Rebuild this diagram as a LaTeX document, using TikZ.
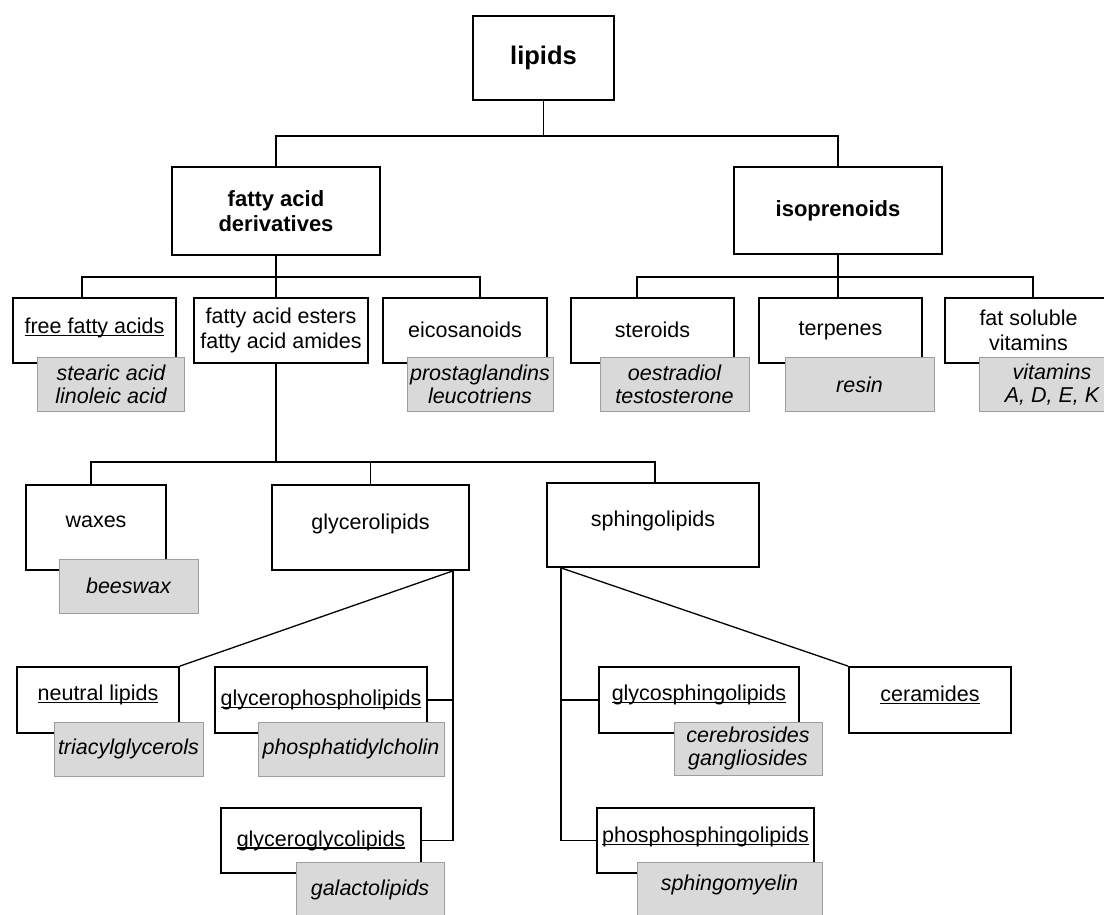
\documentclass[tikz,border=0pt]{standalone}
\usepackage{fontspec}
\setmainfont{Liberation Sans}
% underline at a fixed depth (runs through descenders, like the original)
\newcommand{\ulin}[1]{\leavevmode\setbox0=\hbox{#1}\rlap{\rule[-2.6pt]{\wd0}{1.2pt}}\box0}
% move a label up inside its box (text ends up half the amount higher)
\newcommand{\liftby}[2]{\raisebox{#1pt}{#2}}
\begin{document}
\begin{tikzpicture}[x=1pt, y=-1pt,
    box/.style={draw, line width=1.8pt, fill=white, inner sep=0pt, align=center,
                font=\fontsize{21.5}{25}\selectfont},
    headbox/.style={box, font=\fontsize{22}{25}\selectfont\bfseries},
    example/.style={draw=black!38, line width=0.8pt, fill=black!15, inner sep=0pt,
                align=center, font=\fontsize{21.5}{22.5}\selectfont\itshape},
    link/.style={line width=1.3pt}]
    % --- page frame ---
    \useasboundingbox (0,0) rectangle (1104,914);

    % --- heights of the horizontal bars ---
    \def\barOne{136}
    \def\barTwo{277}
    \def\barThree{462}

    % --- top levels ---
    \node[headbox, minimum width=141, minimum height=84, font=\fontsize{25.5}{28}\selectfont\bfseries]
        (lipids) at (543.5,58) {lipids};
    \node[headbox, minimum width=208, minimum height=88] (fad) at (276,211) {fatty acid\\derivatives};
    \node[headbox, minimum width=208, minimum height=87] (iso) at (838,210.5) {isoprenoids};

    % --- third level: fatty acid side ---
    \node[box, minimum width=163, minimum height=65] (ffa) at (94.5,330.5) {\liftby{10}{\ulin{free fatty acids}}};
    \node[example, minimum width=147, minimum height=54] (ffaex) at (111,384.5) {stearic acid\\linoleic acid};
    \node[box, minimum width=174, minimum height=65] (esters) at (281,330.5) {fatty acid esters\\fatty acid amides};
    \node[box, minimum width=164, minimum height=65] (eico) at (465,330.5) {\liftby{2}{eicosanoids}};
    \node[example, minimum width=146, minimum height=54] (eicoex) at (480,384.5) {prostaglandins\\leucotriens};

    % --- third level: isoprenoid side ---
    \node[box, minimum width=163, minimum height=65] (ster) at (652.5,330.5) {\liftby{2}{steroids}};
    \node[example, minimum width=149, minimum height=54] (sterex) at (674.5,384.5) {oestradiol\\testosterone};
    \node[box, minimum width=163, minimum height=65] (terp) at (840.5,330.5) {\liftby{2}{terpenes}};
    \node[example, minimum width=149, minimum height=54] (terpex) at (859.5,384.5) {resin};
    \node[box, minimum width=167, minimum height=65] (fsv) at (1028.5,330.5) {fat soluble\\vitamins};
    \node[example, minimum width=146, minimum height=54] (fsvex) at (1052,384.5) {vitamins\\A, D, E, K};

    % --- fourth level ---
    \node[box, minimum width=140, minimum height=85] (waxes) at (96,527.5) {\liftby{11}{waxes}};
    \node[example, minimum width=139, minimum height=54] (waxesex) at (128.5,586) {beeswax};
    \node[box, minimum width=197, minimum height=85] (glyc) at (370.5,527.5) {\liftby{11}{glycerolipids}};
    \node[box, minimum width=212, minimum height=84] (sphingo) at (653,525) {\liftby{12}{sphingolipids}};

    % --- glycerolipid branch ---
    \node[box, minimum width=162, minimum height=66] (neutral) at (98,700) {\liftby{14}{\ulin{neutral lipids}}};
    \node[example, minimum width=149, minimum height=54] (neutralex) at (128.5,749) {triacylglycerols};
    \node[box, minimum width=212, minimum height=66] (gpl) at (321,700) {\ulin{glycerophospholipids}};
    \node[example, minimum width=186, minimum height=54] (gplex) at (351,749) {phosphatidylcholin};
    \node[box, minimum width=200, minimum height=65] (ggl) at (321,840.5) {\ulin{glyceroglycolipids}};
    \node[example, minimum width=148, minimum height=56] (gglex) at (370,890) {galactolipids};

    % --- sphingolipid branch ---
    \node[box, minimum width=200, minimum height=66] (gsl) at (699,700) {\liftby{14}{\ulin{glycosphingolipids}}};
    \node[example, minimum width=148, minimum height=53] (gslex) at (748,748.5) {cerebrosides\\gangliosides};
    \node[box, minimum width=162, minimum height=66] (cer) at (930,700) {\liftby{12}{\ulin{ceramides}}};
    \node[box, minimum width=217, minimum height=65] (psl) at (705.5,840.5) {\liftby{11}{\ulin{phosphosphingolipids}}};
    \node[example, minimum width=185, minimum height=56] (pslex) at (729.5,890) {\liftby{14}{sphingomyelin}};

    % --- connectors ---
    \coordinate (j1) at (543.5,\barOne);
    \draw[link] (lipids.south) -- (j1);
    \draw[link] (fad.north) |- (j1) -| (iso.north);

    \coordinate (b2l) at (82,\barTwo);
    \coordinate (b2r) at (480,\barTwo);
    \draw[link] (fad.south) -- (fad.south |- esters.north);
    \draw[link] (b2l |- ffa.north) -- (b2l) -- (b2r) -- (b2r |- eico.north);

    \coordinate (b3l) at (637,\barTwo);
    \coordinate (b3r) at (1033,\barTwo);
    \draw[link] (iso.south) -- (iso.south |- terp.north);
    \draw[link] (b3l |- ster.north) -- (b3l) -- (b3r) -- (b3r |- fsv.north);

    \coordinate (b4l) at (91,\barThree);
    \coordinate (b4r) at (655,\barThree);
    \draw[link] (fad.south |- esters.south) -- (fad.south |- b4l);
    \draw[link] (b4l |- waxes.north) -- (b4l) -- (b4r) -- (b4r |- sphingo.north);
    \draw[link] (glyc.north |- b4l) -- (glyc.north);

    % glycerolipids fan out from one point near the lower right corner
    \coordinate (g0) at ([xshift=-17pt]glyc.south east);
    \draw[link] (g0) -- (neutral.north east);
    \draw[link] (g0) |- (ggl.east);
    \draw[link] (gpl.east) -- (gpl.east -| g0);

    % sphingolipids fan out from one point near the lower left corner
    \coordinate (s0) at ([xshift=15pt]sphingo.south west);
    \draw[link] (s0) -- (cer.north west);
    \draw[link] (s0) |- (psl.west);
    \draw[link] (gsl.west) -- (gsl.west -| s0);
\end{tikzpicture}
\end{document}
